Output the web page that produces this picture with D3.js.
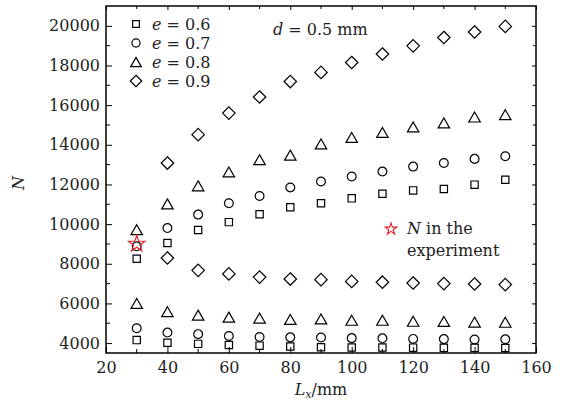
<!DOCTYPE html>
<html>
<head>
<meta charset="utf-8">
<script src="https://cdn.jsdelivr.net/npm/d3@7"></script>
<style>
  body { margin: 0; background: #fff; }
  text { font-family: "DejaVu Serif", serif; }
</style>
</head>
<body>
<div class="chart"></div>
<script>
// data
const lx = [30, 40, 50, 60, 70, 80, 90, 100, 110, 120, 130, 140, 150];
const lx09 = [40, 50, 60, 70, 80, 90, 100, 110, 120, 130, 140, 150];

const e06Upper = [8250, 9050, 9700, 10100, 10500, 10850, 11050, 11300, 11530, 11700, 11770, 11990, 12240];
const e06Lower = [4150, 4020, 3960, 3900, 3870, 3830, 3790, 3780, 3780, 3770, 3760, 3760, 3750];
const e07Upper = [8880, 9800, 10480, 11050, 11420, 11850, 12150, 12400, 12650, 12900, 13080, 13290, 13420];
const e07Lower = [4750, 4530, 4450, 4360, 4310, 4290, 4280, 4250, 4240, 4210, 4200, 4180, 4190];
const e08Upper = [9720, 11020, 11930, 12630, 13250, 13480, 14040, 14370, 14620, 14900, 15100, 15400, 15520];
const e08Lower = [6000, 5580, 5410, 5310, 5260, 5190, 5220, 5150, 5150, 5100, 5090, 5060, 5050];
const e09Upper = [13080, 14510, 15600, 16410, 17190, 17650, 18150, 18580, 18990, 19410, 19690, 19970];
const e09Lower = [8290, 7670, 7490, 7330, 7230, 7200, 7110, 7070, 7030, 7000, 6980, 6950];

const experiment = [{x: 30, y: 9000}];

const legendLabels = ["0.6", "0.7", "0.8", "0.9"];
const xTicks = [20, 40, 60, 80, 100, 120, 140, 160];
const yTicks = [4000, 6000, 8000, 10000, 12000, 14000, 16000, 18000, 20000];

// margins, height and width
const margin = ({top: 6, right: 30, bottom: 63, left: 106});
const width = 566 - margin.left - margin.right;
const height = 416 - margin.top - margin.bottom;

const svg = d3.select(".chart")
    .append('svg')
    .attr('width', 566)
    .attr('height', 416)
    .append('g')
    .attr('transform', 'translate(' + margin.left + ',' + margin.top + ')');

const xScale = d3.scaleLinear().domain([20, 160]).range([0, width]);
const yScale = d3.scaleLinear().domain([3500, 21000]).range([height, 0]);

// custom marker shapes (bbox centred triangle, rotated square)
const triangle = {
    draw(ctx, size) {
        const s = Math.sqrt(size * 4 / Math.sqrt(3));
        const h = s * Math.sqrt(3) / 2;
        ctx.moveTo(0, -h / 2);
        ctx.lineTo(s / 2, h / 2);
        ctx.lineTo(-s / 2, h / 2);
        ctx.closePath();
    }
};
const diamond = {
    draw(ctx, size) {
        const r = Math.sqrt(size / 2);
        ctx.moveTo(0, -r);
        ctx.lineTo(r, 0);
        ctx.lineTo(0, r);
        ctx.lineTo(-r, 0);
        ctx.closePath();
    }
};

const markers = [
    {type: d3.symbolSquare, size: 53},
    {type: d3.symbolCircle, size: 61},
    {type: triangle, size: 57},
    {type: diamond, size: 78}
];

const series = [
    {m: 0, xs: lx, ys: e06Upper}, {m: 0, xs: lx, ys: e06Lower},
    {m: 1, xs: lx, ys: e07Upper}, {m: 1, xs: lx, ys: e07Lower},
    {m: 2, xs: lx, ys: e08Upper}, {m: 2, xs: lx, ys: e08Lower},
    {m: 3, xs: lx09, ys: e09Upper}, {m: 3, xs: lx09, ys: e09Lower}
];

// axes with inward ticks
svg.append('g')
    .attr('transform', 'translate(0,' + height + ')')
    .call(d3.axisBottom(xScale).tickValues(xTicks).tickSize(-6).tickPadding(9).tickFormat(d3.format('d')))
    .call(g => g.select('.domain').remove())
    .call(g => g.selectAll('text').attr('font-size', 16).attr('fill', '#222'));

svg.append('g')
    .call(d3.axisLeft(yScale).tickValues(yTicks).tickSize(-6).tickPadding(6).tickFormat(d3.format('d')))
    .call(g => g.select('.domain').remove())
    .call(g => g.selectAll('text').attr('font-size', 16).attr('fill', '#222'));

svg.append('g')
    .call(d3.axisTop(xScale).tickValues(xTicks).tickSize(-4).tickFormat(''))
    .call(g => g.select('.domain').remove());

svg.append('g')
    .attr('transform', 'translate(' + width + ',0)')
    .call(d3.axisRight(yScale).tickValues(yTicks).tickSize(-4).tickFormat(''))
    .call(g => g.select('.domain').remove());

// minor ticks
const xMinor = d3.range(30, 160, 20);
const yMinor = d3.range(5000, 21000, 2000);
svg.append('g').selectAll('line').data(xMinor).enter().append('line')
    .attr('x1', d => xScale(d)).attr('x2', d => xScale(d))
    .attr('y1', height).attr('y2', height - 4).attr('stroke', 'black');
svg.append('g').selectAll('line').data(xMinor).enter().append('line')
    .attr('x1', d => xScale(d)).attr('x2', d => xScale(d))
    .attr('y1', 0).attr('y2', 3).attr('stroke', 'black');
svg.append('g').selectAll('line').data(yMinor).enter().append('line')
    .attr('y1', d => yScale(d)).attr('y2', d => yScale(d))
    .attr('x1', 0).attr('x2', 4).attr('stroke', 'black');
svg.append('g').selectAll('line').data(yMinor).enter().append('line')
    .attr('y1', d => yScale(d)).attr('y2', d => yScale(d))
    .attr('x1', width).attr('x2', width - 3).attr('stroke', 'black');

// frame
svg.append('rect')
    .attr('width', width).attr('height', height)
    .attr('fill', 'none').attr('stroke', 'black').attr('stroke-width', 1.5);

// data points
series.forEach(s => {
    const sym = d3.symbol().type(markers[s.m].type).size(markers[s.m].size);
    svg.append('g').selectAll('path')
        .data(s.xs.map((x, i) => ({x: x, y: s.ys[i]})))
        .enter()
        .append('path')
        .attr('d', sym)
        .attr('transform', d => `translate(${xScale(d.x)},${yScale(d.y)})`)
        .attr('fill', 'none')
        .attr('stroke', 'black')
        .attr('stroke-width', 1.2);
});

// experiment star
svg.append('g').selectAll('path')
    .data(experiment)
    .enter()
    .append('path')
    .attr('d', d3.symbol().type(d3.symbolStar).size(85))
    .attr('transform', d => `translate(${xScale(d.x)},${yScale(d.y)})`)
    .attr('fill', 'none')
    .attr('stroke', '#e8202a')
    .attr('stroke-width', 1.1);

// legend
const legend = svg.append('g')
    .selectAll('g')
    .data(legendLabels)
    .enter()
    .append('g')
    .attr('transform', (d, i) => `translate(30,${18 + i * 19})`);

legend.append('path')
    .attr('d', (d, i) => d3.symbol().type(markers[i].type).size(markers[i].size * 0.85)())
    .attr('fill', 'none')
    .attr('stroke', 'black')
    .attr('stroke-width', 1.2);

legend.append('text')
    .attr('x', 16)
    .attr('dy', '0.35em')
    .attr('font-size', 16)
    .attr('fill', '#222')
    .call(t => t.append('tspan').attr('font-style', 'italic').text('e'))
    .call(t => t.append('tspan').text(d => ' = ' + d));

// annotation d = 0.5 mm
svg.append('text')
    .attr('x', 167)
    .attr('y', 29)
    .attr('font-size', 16)
    .attr('fill', '#222')
    .call(t => t.append('tspan').attr('font-style', 'italic').text('d'))
    .call(t => t.append('tspan').text(' = 0.5 mm'));

// experiment legend
svg.append('path')
    .attr('d', d3.symbol().type(d3.symbolStar).size(42))
    .attr('transform', 'translate(285,223)')
    .attr('fill', 'none')
    .attr('stroke', '#e8202a')
    .attr('stroke-width', 1.1);

const expText = svg.append('text')
    .attr('font-size', 16)
    .attr('fill', '#222');
expText.append('tspan').attr('x', 301).attr('y', 228)
    .call(t => t.append('tspan').attr('font-style', 'italic').text('N'))
    .call(t => t.append('tspan').text(' in the'));
expText.append('tspan').attr('x', 301).attr('y', 250).text('experiment');

// axis titles
svg.append('text')
    .attr('transform', `translate(${-82},177) rotate(-90)`)
    .attr('text-anchor', 'middle')
    .attr('font-size', 16)
    .attr('font-style', 'italic')
    .attr('fill', '#222')
    .text('N');

svg.append('text')
    .attr('x', width / 2)
    .attr('y', height + 42)
    .attr('text-anchor', 'middle')
    .attr('font-size', 16)
    .attr('fill', '#222')
    .call(t => t.append('tspan').attr('font-style', 'italic').text('L'))
    .call(t => t.append('tspan').attr('font-style', 'italic').attr('font-size', 11).attr('dy', 3).text('x'))
    .call(t => t.append('tspan').attr('dy', -3).text('/mm'));
</script>
</body>
</html>
